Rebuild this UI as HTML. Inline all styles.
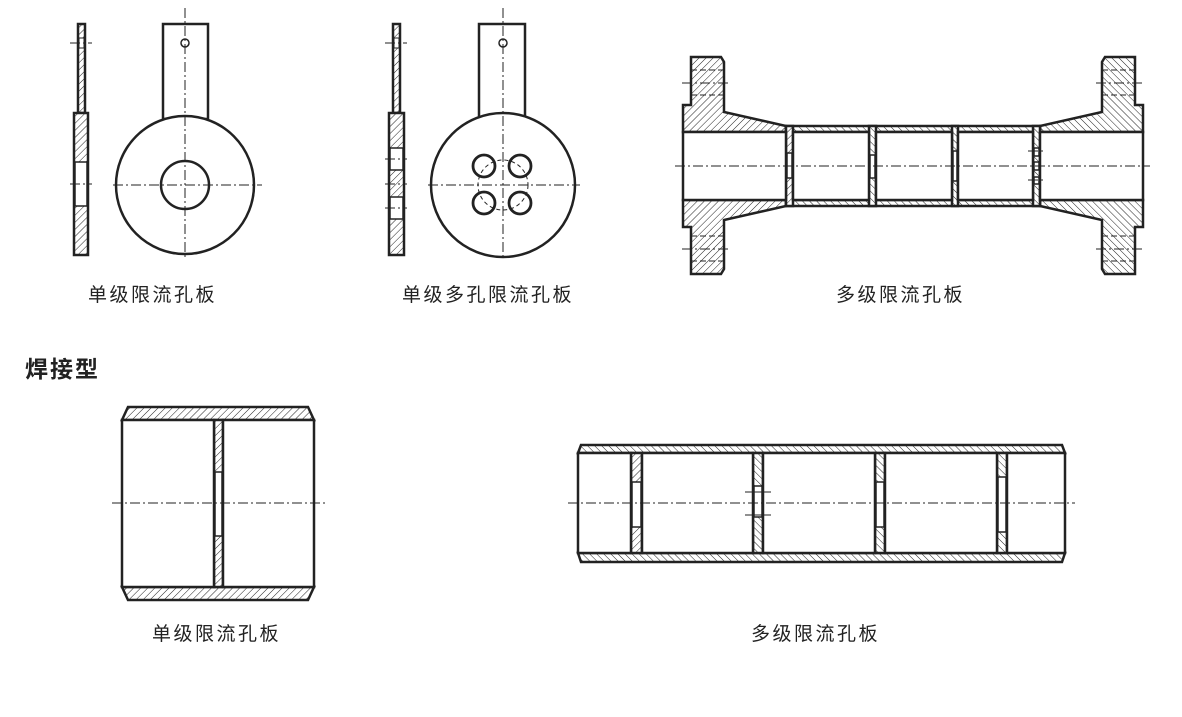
<!DOCTYPE html>
<html><head><meta charset="utf-8"><style>
html,body{margin:0;padding:0;background:#fff;}
svg{display:block;}
text{font-family:"Liberation Sans","Noto Sans CJK SC",sans-serif;fill:#222;}
</style></head><body>
<svg width="1182" height="717" viewBox="0 0 1182 717" xmlns="http://www.w3.org/2000/svg">
<defs>
<pattern id="h" patternUnits="userSpaceOnUse" width="5" height="5" patternTransform="rotate(45)"><rect width="5" height="5" fill="#fff"/><line x1="0" y1="0" x2="0" y2="5" stroke="#222" stroke-width="1"/></pattern>
<pattern id="h2" patternUnits="userSpaceOnUse" width="5" height="5" patternTransform="rotate(-45)"><rect width="5" height="5" fill="#fff"/><line x1="0" y1="0" x2="0" y2="5" stroke="#222" stroke-width="1"/></pattern>
</defs>
<g stroke="#222" fill="none">
<!-- single plate side -->
<rect x="78" y="24" width="7" height="89" fill="url(#h)" stroke-width="2.5"/>
<rect x="74" y="113" width="14" height="142" fill="url(#h)" stroke-width="2.5"/>
<rect x="75" y="162" width="12" height="44" fill="#fff" stroke-width="1.5"/>
<rect x="79" y="38" width="5" height="10" fill="#fff" stroke-width="1"/>
<g stroke-width="1" stroke-dasharray="10,3,2,3"><line x1="70" y1="43" x2="92" y2="43"/><line x1="70" y1="184" x2="92" y2="184"/></g>
<!-- single plate front -->
<rect x="163" y="24" width="45" height="95" fill="#fff" stroke-width="2.5"/>
<circle cx="185" cy="185" r="69" fill="#fff" stroke-width="2.5"/>
<circle cx="185" cy="185" r="24" stroke-width="2.5"/>
<circle cx="185" cy="43" r="4" stroke-width="1.5"/>
<g stroke-width="1" stroke-dasharray="10,3,2,3"><line x1="113" y1="185" x2="262" y2="185"/><line x1="185" y1="8" x2="185" y2="258"/></g>
<!-- multi-hole side -->
<rect x="393" y="24" width="7" height="89" fill="url(#h)" stroke-width="2.5"/>
<rect x="389" y="113" width="15" height="142" fill="url(#h)" stroke-width="2.5"/>
<rect x="390" y="148" width="13" height="22" fill="#fff" stroke-width="1.5"/>
<rect x="390" y="197" width="13" height="22" fill="#fff" stroke-width="1.5"/>
<rect x="394" y="38" width="5" height="10" fill="#fff" stroke-width="1"/>
<g stroke-width="1" stroke-dasharray="10,3,2,3"><line x1="385" y1="43" x2="407" y2="43"/><line x1="385" y1="184" x2="407" y2="184"/><line x1="385" y1="159" x2="407" y2="159"/><line x1="385" y1="208" x2="407" y2="208"/></g>
<!-- multi-hole front -->
<rect x="479" y="24" width="46" height="95" fill="#fff" stroke-width="2.5"/>
<circle cx="503" cy="185" r="72" fill="#fff" stroke-width="2.5"/>
<circle cx="503" cy="43" r="4" stroke-width="1.5"/>
<circle cx="503" cy="185" r="25" stroke-width="1" stroke-dasharray="4,3"/>
<g stroke-width="2.8"><circle cx="484" cy="166" r="11"/><circle cx="520" cy="166" r="11"/><circle cx="484" cy="203" r="11"/><circle cx="520" cy="203" r="11"/></g>
<g stroke-width="1" stroke-dasharray="10,3,2,3"><line x1="428" y1="185" x2="580" y2="185"/><line x1="503" y1="8" x2="503" y2="260"/></g>

<!-- multi-stage flanged -->
<g stroke-width="2.5">
<polygon points="691,57 721,57 724,62 724,112 786,126 786,132 683,132 683,105 691,105" fill="url(#h)"/>
<polygon points="691,274 721,274 724,269 724,220 786,206 786,200 683,200 683,227 691,227" fill="url(#h)"/>
<polygon points="1135,57 1105,57 1102,62 1102,112 1040,126 1040,132 1143,132 1143,105 1135,105" fill="url(#h2)"/>
<polygon points="1135,274 1105,274 1102,269 1102,220 1040,206 1040,200 1143,200 1143,227 1135,227" fill="url(#h2)"/>
<rect x="786" y="126" width="254" height="6" fill="url(#h2)"/>
<rect x="786" y="200" width="254" height="6" fill="url(#h2)"/>
<rect x="786" y="126" width="7" height="80" fill="url(#h)"/>
<rect x="869" y="126" width="7" height="80" fill="url(#h2)"/>
<rect x="952" y="126" width="6" height="80" fill="url(#h2)"/>
<rect x="1033" y="126" width="7" height="80" fill="url(#h2)"/>
<rect x="683" y="132" width="103" height="68" fill="#fff"/>
<rect x="793" y="132" width="76" height="68" fill="#fff"/>
<rect x="876" y="132" width="76" height="68" fill="#fff"/>
<rect x="958" y="132" width="75" height="68" fill="#fff"/>
<rect x="1040" y="132" width="103" height="68" fill="#fff"/>
</g>
<g stroke-width="1.5" fill="#fff">
<rect x="787" y="153" width="5" height="25"/><rect x="870" y="155" width="5" height="23"/><rect x="953" y="151" width="4" height="30"/>
<rect x="1034" y="148" width="5" height="8"/><rect x="1034" y="162" width="5" height="8"/><rect x="1034" y="177" width="5" height="7"/>
</g>
<g stroke-width="1" stroke-dasharray="10,3,2,3">
<line x1="675" y1="166" x2="1150" y2="166"/>
<line x1="682" y1="83" x2="730" y2="83"/><line x1="682" y1="249" x2="730" y2="249"/>
<line x1="1096" y1="83" x2="1144" y2="83"/><line x1="1096" y1="249" x2="1144" y2="249"/>
<line x1="1028" y1="151" x2="1046" y2="151"/><line x1="1028" y1="180" x2="1046" y2="180"/>
</g>
<g stroke-width="1" stroke-dasharray="6,3">
<line x1="691" y1="70" x2="724" y2="70"/><line x1="691" y1="95" x2="724" y2="95"/>
<line x1="691" y1="236" x2="724" y2="236"/><line x1="691" y1="261" x2="724" y2="261"/>
<line x1="1102" y1="70" x2="1135" y2="70"/><line x1="1102" y1="95" x2="1135" y2="95"/>
<line x1="1102" y1="236" x2="1135" y2="236"/><line x1="1102" y1="261" x2="1135" y2="261"/>
</g>

<!-- welded single -->
<g stroke-width="2.5">
<polygon points="128,407 308,407 314,420 122,420" fill="url(#h)"/>
<polygon points="122,587 314,587 308,600 128,600" fill="url(#h)"/>
<rect x="214" y="420" width="9" height="167" fill="url(#h)"/>
<rect x="215" y="472" width="7" height="64" fill="#fff" stroke-width="1.5"/>
<rect x="122" y="420" width="92" height="167" fill="#fff"/>
<rect x="223" y="420" width="91" height="167" fill="#fff"/>
</g>
<line x1="112" y1="503" x2="325" y2="503" stroke-width="1" stroke-dasharray="10,3,2,3"/>

<!-- welded multi -->
<g stroke-width="2.5">
<polygon points="581,445 1062,445 1065,453 578,453" fill="url(#h2)"/>
<polygon points="578,553 1065,553 1062,562 581,562" fill="url(#h2)"/>
<rect x="631" y="453" width="11" height="100" fill="url(#h)"/>
<rect x="753" y="453" width="10" height="100" fill="url(#h2)"/>
<rect x="875" y="453" width="10" height="100" fill="url(#h2)"/>
<rect x="997" y="453" width="10" height="100" fill="url(#h2)"/>
<rect x="578" y="453" width="53" height="100" fill="#fff"/>
<rect x="642" y="453" width="111" height="100" fill="#fff"/>
<rect x="763" y="453" width="112" height="100" fill="#fff"/>
<rect x="885" y="453" width="112" height="100" fill="#fff"/>
<rect x="1007" y="453" width="58" height="100" fill="#fff"/>
</g>
<g stroke-width="1.5" fill="#fff">
<rect x="632" y="482" width="9" height="45"/><rect x="754" y="486" width="8" height="31"/><rect x="876" y="482" width="8" height="45"/><rect x="998" y="477" width="8" height="55"/>
</g>
<g stroke-width="1" stroke-dasharray="10,3,2,3"><line x1="568" y1="503" x2="1075" y2="503"/></g>
<g stroke-width="1"><line x1="745" y1="492" x2="771" y2="492"/><line x1="745" y1="515" x2="771" y2="515"/></g>
</g>

<g font-size="19" letter-spacing="2.5">
<text x="88" y="301">单级限流孔板</text>
<text x="402" y="301">单级多孔限流孔板</text>
<text x="836" y="301">多级限流孔板</text>
<text x="152" y="640">单级限流孔板</text>
<text x="751" y="640">多级限流孔板</text>
</g>
<text x="25" y="377" font-size="23" font-weight="bold" letter-spacing="2">焊接型</text>
</svg>
</body></html>
